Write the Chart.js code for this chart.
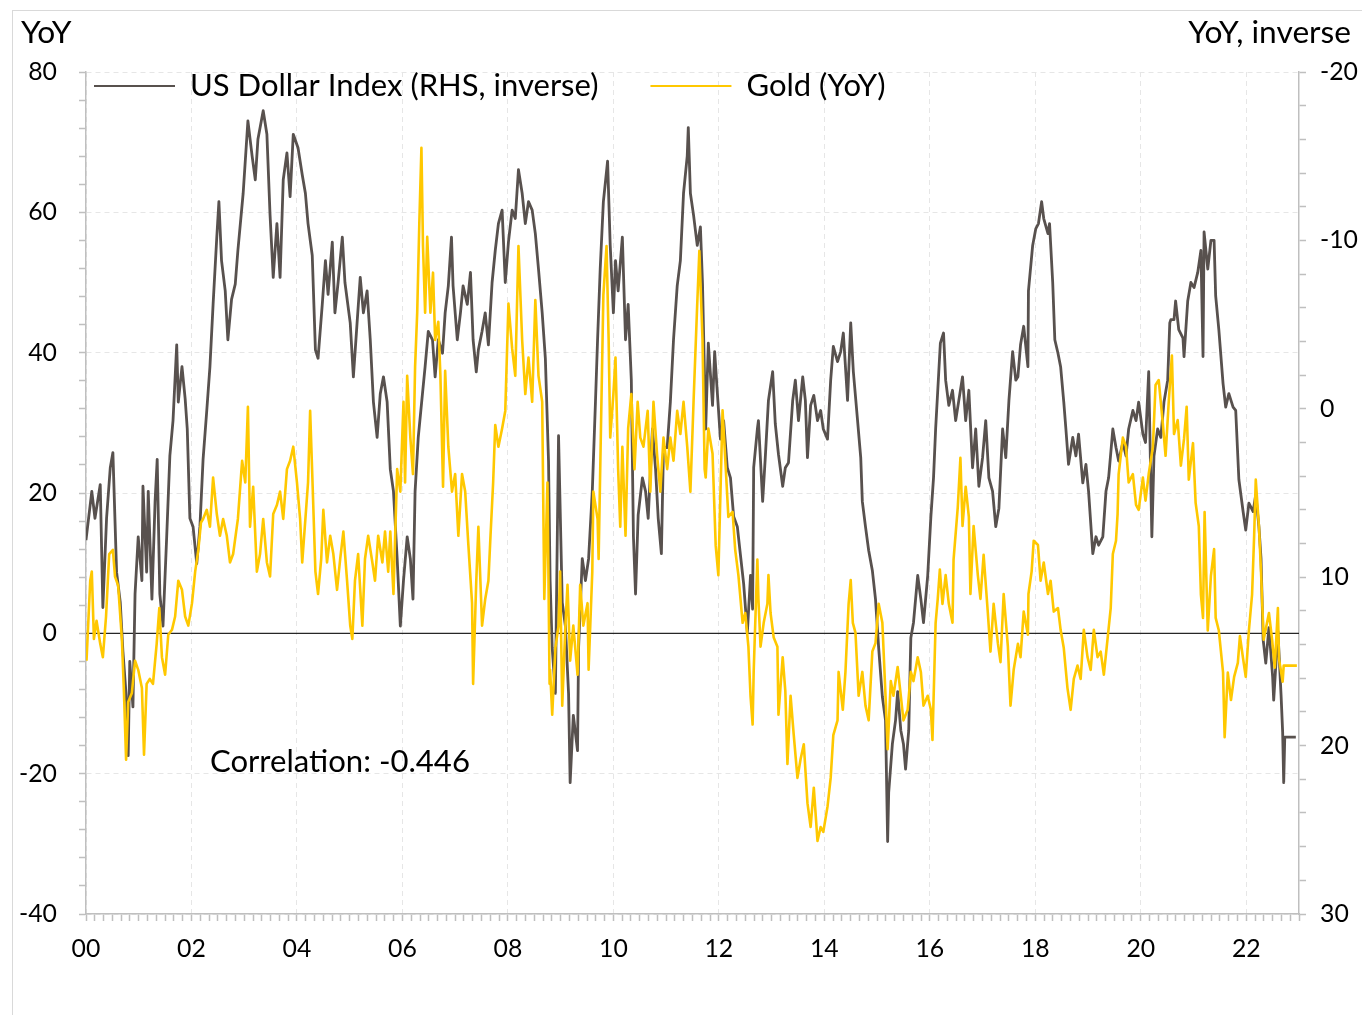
<!DOCTYPE html>
<html><head><meta charset="utf-8">
<script src="https://cdn.jsdelivr.net/npm/chart.js@4.4.0/dist/chart.umd.min.js"></script>
<style>
html,body{margin:0;padding:0;background:#fff;overflow:hidden;}
#wrap{position:relative;width:1362px;height:1015px;}
#frame{position:absolute;left:12px;top:10px;width:1400px;height:1100px;border:1px solid #d9d9d9;box-sizing:border-box;}
canvas{position:absolute;left:0;top:0;}
</style></head><body>
<div id="wrap"><div id="frame"></div><canvas id="c" width="1362" height="1015"></canvas></div>
<script>
// ---------- data (years since Jan 2000) ----------
const seriesLabels = ['US Dollar Index (RHS, inverse)', 'Gold (YoY)'];
const axisTitles = ['YoY', 'YoY, inverse'];
const correlationText = 'Correlation: -0.446';
const xTickLabels = ['00','02','04','06','08','10','12','14','16','18','20','22'];

const usdYears = [0.00,0.11,0.17,0.27,0.32,0.39,0.46,0.51,0.58,0.65,0.70,0.77,0.80,0.83,0.89,0.93,0.99,1.06,1.08,1.15,1.18,1.25,1.31,1.35,1.40,1.46,1.53,1.59,1.65,1.72,1.75,1.82,1.88,1.92,1.97,2.03,2.10,2.16,2.22,2.29,2.35,2.41,2.48,2.52,2.57,2.64,2.69,2.76,2.83,2.88,2.98,3.07,3.15,3.21,3.26,3.36,3.43,3.49,3.55,3.62,3.68,3.74,3.81,3.87,3.93,4.02,4.10,4.16,4.21,4.29,4.35,4.40,4.48,4.54,4.59,4.67,4.72,4.78,4.86,4.91,5.01,5.07,5.14,5.20,5.26,5.33,5.39,5.45,5.52,5.58,5.64,5.71,5.77,5.83,5.90,5.96,6.02,6.09,6.15,6.20,6.24,6.30,6.38,6.43,6.49,6.57,6.62,6.68,6.76,6.81,6.87,6.93,6.96,7.04,7.10,7.15,7.23,7.29,7.34,7.40,7.44,7.51,7.57,7.63,7.70,7.76,7.82,7.89,7.95,8.01,8.08,8.14,8.20,8.27,8.33,8.39,8.46,8.52,8.58,8.65,8.71,8.77,8.80,8.84,8.90,8.96,9.03,9.09,9.15,9.18,9.24,9.32,9.34,9.41,9.47,9.53,9.60,9.66,9.70,9.75,9.81,9.89,9.94,10.00,10.04,10.09,10.17,10.23,10.28,10.34,10.38,10.42,10.47,10.55,10.61,10.66,10.74,10.80,10.85,10.91,10.95,11.02,11.08,11.14,11.21,11.27,11.33,11.40,11.42,11.46,11.52,11.59,11.65,11.69,11.75,11.80,11.88,11.92,11.97,12.03,12.09,12.16,12.22,12.28,12.35,12.41,12.47,12.54,12.60,12.64,12.66,12.73,12.75,12.83,12.88,12.94,13.02,13.07,13.13,13.21,13.26,13.32,13.40,13.45,13.51,13.59,13.64,13.68,13.74,13.80,13.87,13.93,13.98,14.06,14.12,14.17,14.25,14.31,14.36,14.44,14.50,14.55,14.63,14.69,14.72,14.78,14.84,14.91,14.97,15.03,15.10,15.16,15.20,15.22,15.29,15.35,15.39,15.45,15.50,15.54,15.60,15.64,15.69,15.77,15.83,15.88,15.96,16.02,16.07,16.11,16.17,16.20,16.26,16.30,16.36,16.43,16.49,16.55,16.62,16.68,16.74,16.81,16.87,16.93,17.00,17.06,17.12,17.19,17.25,17.31,17.38,17.44,17.50,17.57,17.63,17.67,17.72,17.78,17.86,17.87,17.95,18.01,18.06,18.12,18.16,18.24,18.27,18.33,18.37,18.43,18.48,18.54,18.58,18.63,18.71,18.77,18.82,18.90,18.96,19.01,19.09,19.15,19.20,19.28,19.34,19.39,19.47,19.53,19.58,19.66,19.72,19.77,19.85,19.91,19.96,20.04,20.09,20.15,20.21,20.25,20.32,20.38,20.44,20.51,20.55,20.57,20.63,20.66,20.72,20.80,20.82,20.89,20.95,21.01,21.08,21.14,21.18,21.20,21.27,21.33,21.39,21.42,21.48,21.56,21.61,21.67,21.75,21.80,21.86,21.94,21.99,22.05,22.13,22.18,22.24,22.28,22.32,22.37,22.43,22.50,22.52,22.60,22.66,22.69,22.71,22.73,22.94];
const usdValues = [7.8,4.9,6.5,4.5,11.8,6.5,3.5,2.6,9.7,11.5,14.4,17.4,20.6,15.0,17.7,11.0,7.6,10.2,4.6,9.7,4.9,11.3,5.5,3.0,11.0,12.9,7.6,2.8,0.7,-3.8,-0.4,-2.5,-0.6,1.2,6.5,7.0,9.2,7.0,3.0,0.1,-2.5,-6.2,-10.2,-12.3,-8.8,-7.0,-4.1,-6.5,-7.4,-9.4,-12.8,-17.1,-15.0,-13.6,-16.0,-17.7,-16.3,-11.5,-7.8,-11.0,-7.8,-13.6,-15.2,-12.6,-16.3,-15.5,-13.9,-12.8,-11.0,-9.1,-3.5,-3.0,-6.2,-8.8,-6.8,-9.9,-5.7,-7.5,-10.2,-7.5,-5.1,-1.9,-5.1,-7.8,-5.7,-7.0,-4.1,-0.4,1.7,-0.9,-1.9,-0.4,3.6,4.9,8.9,12.9,10.2,7.6,8.9,11.3,4.9,1.7,-0.9,-2.5,-4.6,-4.1,-1.9,-4.1,-3.3,-5.7,-7.3,-10.2,-7.3,-4.1,-5.7,-7.3,-6.2,-8.1,-4.1,-2.2,-3.5,-4.6,-5.7,-3.8,-7.5,-9.4,-11.0,-11.8,-7.5,-9.9,-11.8,-11.3,-14.2,-12.8,-11.0,-12.3,-11.8,-10.4,-8.3,-5.7,-3.0,3.1,10.2,14.2,16.9,1.6,11.5,12.9,16.9,22.2,18.2,20.3,14.2,8.9,10.2,8.9,4.9,-0.4,-4.1,-8.3,-12.3,-14.7,-9.7,-5.7,-8.8,-7.0,-10.2,-4.1,-6.2,-1.7,7.6,11.0,6.3,4.1,4.9,6.5,1.2,3.6,6.5,8.6,2.3,2.3,-0.4,-4.1,-7.3,-8.8,-12.8,-15.0,-16.7,-12.8,-11.5,-9.7,-10.8,-7.4,1.2,-3.9,-0.2,-3.4,-1.0,1.8,0.7,3.5,4.1,6.4,7.0,8.7,10.4,13.3,9.9,11.9,3.5,1.2,0.7,5.5,2.9,-0.5,-2.2,0.9,2.7,4.6,3.5,3.2,-0.5,-1.7,0.7,-1.9,-0.5,2.9,-0.2,-0.8,0.7,0.1,1.2,1.8,-1.7,-3.7,-2.8,-3.4,-4.5,-0.5,-5.1,-2.2,0.7,2.9,5.5,7.0,8.4,9.6,11.3,14.2,17.1,18.5,25.7,22.8,19.9,18.5,16.8,19.1,19.9,21.4,19.1,13.6,12.7,9.9,11.3,12.7,9.9,6.4,4.1,1.2,-2.2,-3.9,-4.5,-1.7,-0.2,-1.1,0.7,-0.5,-1.9,0.7,-1.1,3.5,1.2,4.6,2.9,0.7,4.1,4.9,7.0,5.9,1.2,2.9,-0.5,-3.4,-1.7,-1.9,-3.8,-4.9,-2.5,-7.0,-9.7,-10.7,-11.0,-12.3,-11.3,-10.4,-11.0,-7.5,-4.1,-3.3,-2.5,-0.4,1.2,3.3,1.7,2.8,1.5,4.4,3.3,4.9,8.6,7.6,8.1,7.6,4.9,4.1,1.2,2.3,3.1,2.0,2.8,1.2,0.1,0.7,-0.4,1.5,2.0,-2.2,7.6,2.8,1.2,1.7,-0.4,-1.7,-5.1,-5.3,-5.3,-6.4,-4.7,-4.2,-3.1,-6.4,-7.5,-7.2,-8.1,-9.4,-3.1,-10.5,-8.3,-10.0,-10.0,-6.7,-4.7,-1.5,-0.1,-0.9,-0.1,0.1,4.2,6.1,7.2,5.6,6.1,5.1,7.0,8.9,13.7,15.1,13.0,15.9,17.3,13.2,17.0,19.2,22.2,19.5,19.5];

const goldYears = [0.01,0.08,0.11,0.15,0.20,0.27,0.32,0.38,0.44,0.51,0.55,0.61,0.68,0.72,0.76,0.80,0.87,0.93,0.99,1.06,1.10,1.15,1.21,1.27,1.34,1.39,1.44,1.50,1.56,1.63,1.69,1.75,1.82,1.88,1.94,2.01,2.07,2.13,2.18,2.22,2.29,2.35,2.41,2.48,2.54,2.60,2.67,2.73,2.79,2.86,2.88,2.96,3.02,3.07,3.11,3.17,3.24,3.30,3.36,3.43,3.49,3.55,3.62,3.68,3.74,3.81,3.87,3.93,4.00,4.06,4.10,4.16,4.21,4.25,4.29,4.35,4.40,4.46,4.50,4.57,4.63,4.69,4.76,4.82,4.88,4.95,5.01,5.05,5.10,5.16,5.24,5.29,5.35,5.43,5.48,5.54,5.62,5.67,5.73,5.77,5.83,5.90,5.96,6.02,6.05,6.09,6.15,6.20,6.24,6.28,6.32,6.36,6.39,6.43,6.47,6.53,6.58,6.62,6.68,6.72,6.77,6.81,6.87,6.94,7.00,7.06,7.13,7.19,7.25,7.32,7.34,7.40,7.44,7.51,7.57,7.63,7.67,7.72,7.76,7.82,7.89,7.95,8.01,8.08,8.14,8.20,8.27,8.33,8.39,8.46,8.52,8.58,8.65,8.69,8.75,8.79,8.80,8.84,8.90,8.96,8.99,9.03,9.09,9.13,9.18,9.24,9.32,9.37,9.43,9.51,9.53,9.60,9.62,9.70,9.72,9.77,9.81,9.87,9.91,9.94,10.00,10.04,10.09,10.13,10.17,10.23,10.28,10.34,10.40,10.46,10.51,10.57,10.65,10.70,10.76,10.83,10.89,10.95,11.02,11.08,11.14,11.21,11.27,11.33,11.40,11.46,11.52,11.59,11.63,11.69,11.73,11.75,11.80,11.88,11.94,11.99,12.07,12.12,12.18,12.26,12.31,12.37,12.45,12.50,12.56,12.60,12.64,12.66,12.69,12.73,12.75,12.79,12.85,12.92,12.94,12.98,13.04,13.11,13.13,13.21,13.26,13.30,13.36,13.42,13.49,13.55,13.61,13.68,13.74,13.80,13.87,13.93,13.98,14.06,14.12,14.17,14.25,14.27,14.35,14.40,14.46,14.50,14.54,14.59,14.65,14.72,14.78,14.84,14.91,14.97,15.03,15.10,15.16,15.20,15.26,15.31,15.39,15.45,15.50,15.58,15.64,15.69,15.77,15.83,15.88,15.96,16.02,16.05,16.11,16.15,16.19,16.24,16.30,16.36,16.43,16.45,16.53,16.58,16.62,16.68,16.74,16.77,16.83,16.91,16.96,17.02,17.10,17.15,17.21,17.29,17.34,17.40,17.48,17.53,17.59,17.67,17.72,17.78,17.86,17.87,17.93,17.97,18.05,18.10,18.16,18.24,18.29,18.35,18.43,18.48,18.54,18.61,18.67,18.73,18.80,18.86,18.92,18.99,19.05,19.11,19.18,19.24,19.30,19.37,19.43,19.47,19.53,19.56,19.58,19.66,19.72,19.77,19.85,19.91,19.96,20.04,20.09,20.15,20.23,20.28,20.34,20.42,20.47,20.53,20.59,20.63,20.70,20.76,20.82,20.87,20.91,20.99,21.04,21.10,21.14,21.18,21.21,21.27,21.33,21.39,21.42,21.48,21.56,21.59,21.65,21.71,21.77,21.84,21.88,21.94,21.99,22.05,22.11,22.15,22.18,22.24,22.28,22.33,22.43,22.49,22.54,22.60,22.62,22.69,22.71,22.96];
const goldValues = [-3.9,7.5,8.8,-0.8,1.8,-1.5,-3.4,2.4,11.3,11.9,8.1,6.8,-0.8,-8.5,-18.0,-9.8,-8.5,-3.9,-5.2,-7.8,-17.3,-7.2,-6.5,-7.2,-1.5,3.6,-3.4,-5.9,-0.2,0.5,2.4,7.5,6.2,2.4,1.1,4.3,8.8,11.9,15.8,16.3,17.6,15.2,22.2,17.0,13.9,16.3,13.9,10.1,11.3,15.2,16.3,24.6,21.5,32.3,15.2,20.9,8.8,11.3,16.3,10.1,8.1,17.0,18.3,20.2,16.3,23.4,24.6,26.6,21.5,16.3,10.1,16.3,21.5,31.7,22.7,8.8,5.6,10.6,17.6,10.1,13.9,11.3,6.2,10.6,14.5,7.5,1.1,-0.8,7.5,11.3,1.1,10.6,13.9,10.1,7.5,13.9,10.1,14.5,8.8,14.5,5.6,23.4,20.2,33.0,21.5,36.7,27.9,22.7,38.0,45.7,58.4,69.2,55.2,45.7,56.5,45.7,51.4,41.8,44.4,36.7,20.9,37.4,26.6,20.2,22.7,13.9,22.7,20.2,12.6,4.3,-7.2,7.5,15.2,1.1,4.9,7.5,13.9,21.5,29.7,26.6,29.2,31.7,47.0,40.6,36.7,55.2,41.8,34.1,39.3,33.0,47.5,36.7,33.0,4.9,21.5,-7.2,-5.2,-11.6,-2.1,1.1,8.8,-10.3,1.1,6.9,-3.9,1.1,-5.9,6.9,1.1,4.3,-5.2,8.8,20.2,16.3,10.6,31.7,48.2,55.2,41.8,27.9,34.1,39.3,23.4,15.2,26.6,13.9,29.2,34.1,23.4,33.0,27.9,26.6,31.7,20.2,33.0,25.3,20.2,27.9,23.4,27.9,24.6,31.7,28.4,33.0,26.6,20.2,33.0,47.0,54.5,41.8,23.4,22.2,29.2,25.6,12.5,8.3,31.8,25.0,16.6,17.3,11.9,8.3,1.5,2.9,-1.9,-8.9,-13.0,-5.5,1.5,10.5,4.9,-1.9,1.5,4.2,8.3,2.9,-0.6,-1.9,-11.6,-3.4,-8.2,-18.6,-8.9,-14.5,-20.6,-17.9,-15.8,-24.2,-27.6,-22.0,-29.6,-27.6,-28.3,-24.7,-20.6,-14.5,-12.4,-5.5,-10.9,-5.5,4.2,7.6,1.5,0.1,-8.9,-5.5,-10.3,-12.4,-2.6,-1.4,4.2,1.5,-8.9,-16.5,-6.8,-8.9,-4.8,-8.9,-12.4,-10.9,-5.5,-6.8,-3.4,-5.5,-10.3,-8.9,-10.9,-15.2,1.5,4.9,9.1,4.2,8.3,4.2,1.5,10.5,18.0,25.0,15.3,20.9,16.6,5.6,15.3,8.3,4.9,11.2,2.9,-2.6,4.2,-1.4,-4.1,5.6,-1.9,-10.3,-5.2,-1.5,-3.4,3.1,-0.2,5.6,8.8,13.2,12.6,7.5,10.1,5.6,7.5,3.1,3.6,0.5,-2.1,-7.8,-10.9,-6.5,-4.6,-6.5,0.5,-3.4,-5.2,0.5,-3.4,-2.6,-5.9,-0.8,3.6,11.3,13.2,17.0,22.7,27.9,26.6,21.5,22.7,18.3,17.6,22.2,18.9,22.7,26.6,35.4,36.1,29.7,25.3,33.0,39.6,28.4,30.4,23.9,27.7,32.3,21.9,27.1,18.6,15.3,5.5,2.2,17.3,0.4,8.2,12.0,2.2,0.4,-5.6,-14.8,-5.6,-9.5,-6.2,-4.2,-0.4,-3.6,-6.2,0.4,5.5,14.0,21.9,15.3,8.8,-0.9,2.9,-0.9,-4.9,3.6,-3.6,-6.9,-4.6,-4.6];

// ---------- styles ----------
const FONT = 'Lato, "Open Sans", sans-serif';
const DARK = '#58514e', GOLD = '#ffc800', AXIS = '#bfbfbf', GRID = '#e6e6e6';
const X_MIN = 0, X_MAX = 23;

function fitSize(text, target) {
  const c = document.createElement('canvas').getContext('2d');
  c.font = '100px ' + FONT;
  return Math.round(1000 * target / c.measureText(text).width) / 10;
}
const tickSize = fitSize('-40', 38);
const legendSize = fitSize(seriesLabels[0], 408);
const titleSize = fitSize(axisTitles[1], 163);
const corrSize = fitSize(correlationText, 260);

function zip(xs, ys) {
  const n = Math.min(xs.length, ys.length), out = [];
  for (let i = 0; i < n; i++) out.push({x: xs[i], y: ys[i]});
  return out;
}

const xTickValues = [];
for (let i = 0; i <= Math.round(X_MAX * 6); i++) xTickValues.push(i / 6);

const textPlugin = {
  id: 'texts',
  afterDraw(chart) {
    const {ctx, chartArea, scales} = chart;
    ctx.save();
    ctx.fillStyle = '#000';
    ctx.textBaseline = 'middle';
    ctx.font = titleSize + 'px ' + FONT;
    ctx.textAlign = 'left';
    ctx.fillText(axisTitles[0], 21, 33);
    ctx.textAlign = 'right';
    ctx.fillText(axisTitles[1], 1351, 33);
    // legend
    ctx.font = legendSize + 'px ' + FONT;
    ctx.textAlign = 'left';
    let x = chartArea.left + 8;
    const y = chartArea.top + 14;
    chart.data.datasets.slice(0, 2).forEach(ds => {
      ctx.strokeStyle = ds.borderColor;
      ctx.lineWidth = 2;
      ctx.beginPath(); ctx.moveTo(x, y); ctx.lineTo(x + 81, y); ctx.stroke();
      x += 81 + 15;
      ctx.fillText(ds.label, x, y);
      x += ctx.measureText(ds.label).width + 52;
    });
    // correlation note
    ctx.font = corrSize + 'px ' + FONT;
    ctx.fillText(correlationText, scales.x.getPixelForValue(2.35), scales.y.getPixelForValue(-18.3));
    ctx.restore();
  }
};

new Chart(document.getElementById('c'), {
  type: 'line',
  data: {
    datasets: [
      {label: seriesLabels[0], data: zip(usdYears, usdValues), yAxisID: 'y1', borderColor: DARK, borderWidth: 2.8, pointRadius: 0, order: 2, tension: 0, borderJoinStyle: 'round'},
      {label: seriesLabels[1], data: zip(goldYears, goldValues), yAxisID: 'y', borderColor: GOLD, borderWidth: 2.6, pointRadius: 0, order: 1, tension: 0, borderJoinStyle: 'round'},
      {label: 'zero', data: [{x: X_MIN, y: 0}, {x: X_MAX, y: 0}], yAxisID: 'y', borderColor: '#262626', borderWidth: 1.3, pointRadius: 0, order: 3}
    ]
  },
  options: {
    responsive: false, animation: false, devicePixelRatio: 1,
    layout: {padding: {top: 72, left: 0, right: 0, bottom: 0}},
    plugins: {legend: {display: false}, tooltip: {enabled: false}},
    scales: {
      x: {
        type: 'linear', min: X_MIN, max: X_MAX,
        afterBuildTicks: s => { s.ticks = xTickValues.map(v => ({value: v})); },
        afterFit: s => { s.height = 101; },
        grid: {color: c => (Math.round(c.tick.value * 6) % 12 === 0 ? GRID : 'rgba(0,0,0,0)'), lineWidth: 1, tickLength: 7, tickColor: AXIS, tickWidth: 1.5},
        border: {color: AXIS, width: 1.5, dash: [5, 4]},
        ticks: {autoSkip: false, maxRotation: 0, minRotation: 0, padding: 13, color: '#000', font: {family: FONT, size: tickSize},
          callback: v => { const k = Math.round(v * 6); return k % 12 === 0 ? (xTickLabels[k / 12] || '') : ''; }}
      },
      y: {
        type: 'linear', position: 'left', min: -40, max: 80,
        afterFit: s => { s.width = 86; },
        grid: {color: c => (Math.round(c.tick.value) % 20 === 0 ? GRID : 'rgba(0,0,0,0)'), lineWidth: 1, tickLength: 7, tickColor: AXIS, tickWidth: 1.5},
        border: {color: AXIS, width: 1.5, dash: [5, 4]},
        ticks: {stepSize: 4, autoSkip: false, padding: 22, color: '#000', font: {family: FONT, size: tickSize},
          callback: v => (Math.round(v) % 20 === 0 ? String(Math.round(v)) : '')}
      },
      y1: {
        type: 'linear', position: 'right', reverse: true, min: -20, max: 30,
        afterFit: s => { s.width = 63; },
        grid: {drawOnChartArea: false, tickLength: 7, tickColor: AXIS, tickWidth: 1.5},
        border: {color: AXIS, width: 1.5},
        ticks: {stepSize: 2, autoSkip: false, padding: 14, color: '#000', font: {family: FONT, size: tickSize},
          callback: v => (Math.round(v) % 10 === 0 ? String(Math.round(v)) : '')}
      }
    }
  },
  plugins: [textPlugin]
});
</script>
</body></html>
